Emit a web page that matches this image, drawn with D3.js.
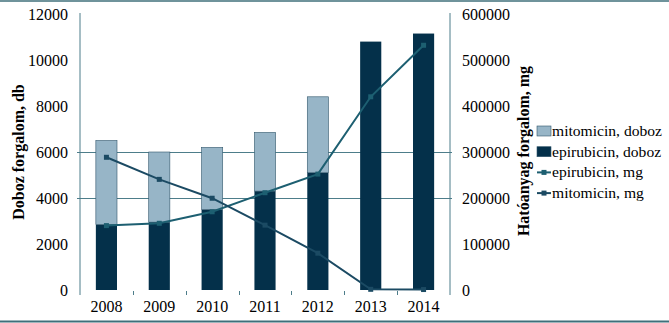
<!DOCTYPE html>
<html>
<head>
<meta charset="utf-8">
<script src="https://cdn.jsdelivr.net/npm/d3@7"></script>
<style>
  html, body { margin: 0; padding: 0; background: #fff; }
  svg { display: block; }
  svg text { font-family: "Liberation Serif", "Times New Roman", Times, "DejaVu Serif", serif !important; fill: #000; }
</style>
</head>
<body>
<svg id="chart" width="669" height="323"></svg>
<script>
// Yearly sales: packages (bars, left axis) and active substance in mg (lines, right axis)
const years = ["2008", "2009", "2010", "2011", "2012", "2013", "2014"];
const epirubicinDoboz = [2850, 2950, 3500, 4300, 5100, 10800, 11150];
const mitomicinDoboz  = [3650, 3050, 2700, 2550, 3300, 0, 0];
const epirubicinMg = [140000, 145000, 170000, 211500, 252000, 420000, 532000];
const mitomicinMg  = [288500, 240500, 199500, 141000, 80000, 1500, 1000];
const leftTicks  = [0, 2000, 4000, 6000, 8000, 10000, 12000];
const rightTicks = [0, 100000, 200000, 300000, 400000, 500000, 600000];
const gridValues = [4000, 6000];

const colLight = "#97b5c7";
const colDark = "#04304a";
const colEpiLine = "#1d5f71";
const colMitoLine = "#1b4a63";
const axisCol = "#4d7d8a";
const serif = "'Liberation Serif', 'Times New Roman', Times, 'DejaVu Serif', serif";

const svg = d3.select("#chart").attr("font-family", serif);
const plot = { left: 80, right: 450, top: 14, bottom: 290 };

const band = d3.scaleBand().domain(years).range([plot.left, plot.right]);
const yL = d3.scaleLinear().domain([0, 12000]).range([plot.bottom, plot.top]);
const yR = d3.scaleLinear().domain([0, 600000]).range([plot.bottom, plot.top]);

// frame lines top and bottom
svg.append("line").attr("x1", 0).attr("x2", 669).attr("y1", 1).attr("y2", 1)
  .attr("stroke", "#3f6f7a").attr("stroke-width", 1.5);
svg.append("line").attr("x1", 0).attr("x2", 669).attr("y1", 321.5).attr("y2", 321.5)
  .attr("stroke", "#3f6f7a").attr("stroke-width", 2);

// gridlines
svg.append("g").selectAll("line").data(gridValues).join("line")
  .attr("x1", plot.left - 3).attr("x2", plot.right + 2)
  .attr("y1", d => Math.round(yL(d)) + 0.5).attr("y2", d => Math.round(yL(d)) + 0.5)
  .attr("stroke", axisCol).attr("stroke-width", 1);

// stacked bars
const rows = years.map((yr, i) => ({ yr, epi: epirubicinDoboz[i], mito: mitomicinDoboz[i] }));
const bw = band.bandwidth() * 0.4;
const bx = d => band(d.yr) + (band.bandwidth() - bw) / 2;
svg.append("g").selectAll("rect").data(rows).join("rect")
  .attr("x", bx).attr("width", bw)
  .attr("y", d => yL(d.epi)).attr("height", d => yL(0) - yL(d.epi))
  .attr("fill", colDark);
svg.append("g").selectAll("rect").data(rows.filter(d => d.mito > 0)).join("rect")
  .attr("x", bx).attr("width", bw)
  .attr("y", d => yL(d.epi + d.mito)).attr("height", d => yL(d.epi) - yL(d.epi + d.mito))
  .attr("fill", colLight).attr("stroke", "#31566b").attr("stroke-width", 0.6);

// axes
const leftAxis = d3.axisLeft(yL).tickValues(leftTicks).tickSize(0).tickPadding(12).tickFormat(d3.format("d"));
const gL = svg.append("g").attr("transform", `translate(${plot.left},0)`).call(leftAxis)
  .attr("font-family", serif).attr("font-size", 16);
gL.select(".domain").attr("stroke", axisCol).attr("d", `M0,${plot.top - 1}V${plot.bottom + 5}`);

const rightAxis = d3.axisRight(yR).tickValues(rightTicks).tickSize(0).tickPadding(12).tickFormat(d3.format("d"));
const gR = svg.append("g").attr("transform", `translate(${plot.right},0)`).call(rightAxis)
  .attr("font-family", serif).attr("font-size", 16);
gR.select(".domain").attr("stroke", axisCol).attr("d", `M0,${plot.top - 1}V${plot.bottom + 5}`);

// category axis: tick marks between categories, labels centered
const gX = svg.append("g");
gX.selectAll("line").data(years.slice(1)).join("line")
  .attr("x1", d => Math.round(band(d)) + 0.5).attr("x2", d => Math.round(band(d)) + 0.5)
  .attr("y1", plot.bottom + 1).attr("y2", plot.bottom + 5)
  .attr("stroke", axisCol);
gX.selectAll("text").data(years).join("text")
  .attr("x", d => band(d) + band.bandwidth() / 2).attr("y", 312)
  .attr("text-anchor", "middle").attr("font-size", 16).text(d => d);

// lines
const lineGen = vals => d3.line()
  .x((d, i) => band(years[i]) + band.bandwidth() / 2)
  .y(d => yR(d))(vals);
[[epirubicinMg, colEpiLine], [mitomicinMg, colMitoLine]].forEach(([vals, col]) => {
  svg.append("path").attr("d", lineGen(vals)).attr("fill", "none")
    .attr("stroke", col).attr("stroke-width", 2);
  svg.append("g").selectAll("rect").data(vals).join("rect")
    .attr("x", (d, i) => band(years[i]) + band.bandwidth() / 2 - 2.5)
    .attr("y", d => yR(d) - 2.5).attr("width", 5).attr("height", 5)
    .attr("fill", col);
});

// axis titles
svg.append("text").attr("transform", "translate(24,152) rotate(-90)")
  .attr("text-anchor", "middle").attr("font-size", 16).attr("font-weight", "bold")
  .text("Doboz forgalom, db");
svg.append("text").attr("transform", "translate(529,151) rotate(-90)")
  .attr("text-anchor", "middle").attr("font-size", 16).attr("font-weight", "bold")
  .text("Hatóanyag forgalom, mg");

// legend
const legendItems = [
  { label: "mitomicin, doboz", type: "box", col: colLight },
  { label: "epirubicin, doboz", type: "box", col: colDark },
  { label: "epirubicin, mg", type: "line", col: colEpiLine },
  { label: "mitomicin, mg", type: "line", col: colMitoLine }
];
const lg = svg.append("g").attr("transform", "translate(537,131)");
const li = lg.selectAll("g").data(legendItems).join("g")
  .attr("transform", (d, i) => `translate(0,${i * 20.7})`);
li.filter(d => d.type === "box").append("rect")
  .attr("x", 0).attr("y", -5).attr("width", 14).attr("height", 10)
  .attr("fill", d => d.col).attr("stroke", "#31566b").attr("stroke-width", 0.6);
li.filter(d => d.type === "line").append("line")
  .attr("x1", 0).attr("x2", 14).attr("y1", 0).attr("y2", 0)
  .attr("stroke", d => d.col).attr("stroke-width", 2);
li.filter(d => d.type === "line").append("rect")
  .attr("x", 4.5).attr("y", -2.5).attr("width", 5).attr("height", 5)
  .attr("fill", d => d.col);
li.append("text").attr("x", 15).attr("y", 5).attr("font-size", 15.6)
  .text(d => d.label);
</script>
</body>
</html>
